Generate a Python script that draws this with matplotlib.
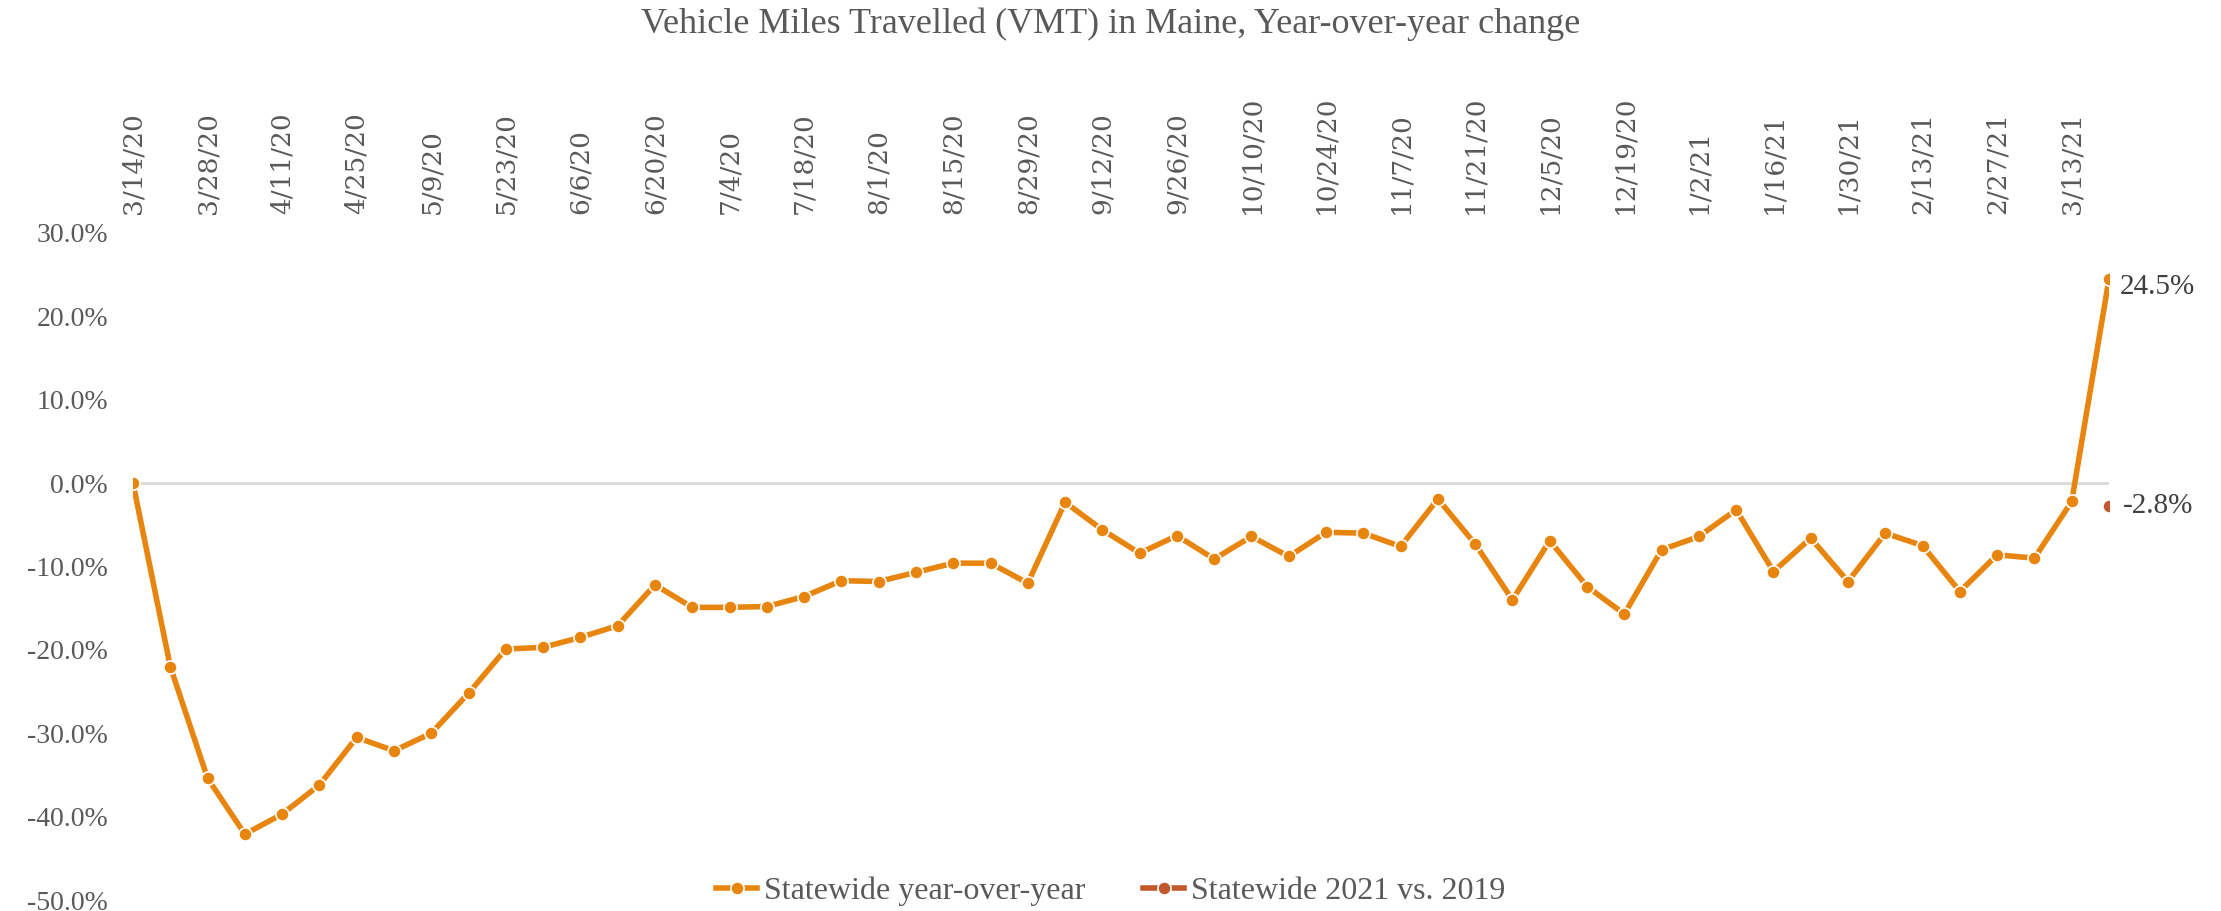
import matplotlib
matplotlib.use("Agg")
import matplotlib.pyplot as plt
import numpy as np
import pandas as pd

# ---- data ----
week_start = "2020-03-14"
n_weeks = 54
yoy = [0.0, -22.0, -35.4, -42.1, -39.7, -36.2, -30.5, -32.1, -30.0, -25.2,
       -19.9, -19.7, -18.5, -17.1, -12.2, -14.9, -14.9, -14.8, -13.6, -11.7,
       -11.8, -10.7, -9.6, -9.6, -12.0, -2.3, -5.6, -8.4, -6.3, -9.1,
       -6.4, -8.8, -5.9, -6.0, -7.6, -1.9, -7.3, -14.0, -6.9, -12.4,
       -15.7, -8.0, -6.4, -3.2, -10.6, -6.6, -11.8, -6.0, -7.5, -13.0,
       -8.6, -9.0, -2.2, 24.5]
vs2019_last = -2.8
series_names = ["Statewide year-over-year", "Statewide 2021 vs. 2019"]
title = "Vehicle Miles Travelled (VMT) in Maine, Year-over-year change"
y_ticks = [30, 20, 10, 0, -10, -20, -30, -40, -50]

dates = pd.date_range(week_start, periods=n_weeks, freq="7D")
labels = [f"{d.month}/{d.day}/{d.strftime('%y')}" for d in dates]
vs2019 = [np.nan] * (n_weeks - 1) + [vs2019_last]

# ---- style ----
serif = ["Liberation Serif", "DejaVu Serif"]
gray = "#595959"
orange = "#E8850E"
red = "#C0582B"

fig = plt.figure(figsize=(22.21, 9.11), dpi=100)
ax = fig.add_axes([133 / 2221, 11 / 911, (2109 - 133) / 2221, (900 - 233) / 911])

x = np.arange(n_weeks)
ax.axhline(0, color="#D9D9D9", lw=2, zorder=1)
ax.plot(x, yoy, color=orange, lw=4, marker="o", ms=9.5, mfc=orange,
        mec="white", mew=1.2, zorder=3, label=series_names[0])
ax.plot(x, vs2019, color=red, lw=4, marker="o", ms=9.5, mfc=red,
        mec="white", mew=1.2, zorder=4, label=series_names[1])

ax.set_xlim(0, n_weeks - 1)
ax.set_ylim(-50, 30)
ax.set_yticks(y_ticks)
ax.set_yticklabels([f"{v:.1f}%" for v in y_ticks], fontfamily=serif,
                   fontsize=20, color=gray)
ax.tick_params(axis="y", length=0, pad=18)

ax.xaxis.tick_top()
ax.set_xticks(x[::2])
ax.set_xticklabels(labels[::2], rotation=90, fontfamily=["DejaVu Serif"],
                   fontsize=19, color=gray, va="bottom", ha="center")
ax.tick_params(axis="x", length=0, pad=14)
for s in ax.spines.values():
    s.set_visible(False)

# data labels
ax.annotate(f"{yoy[-1]:.1f}%", (x[-1], yoy[-1]), xytext=(8, -6),
            textcoords="offset points", ha="left", va="center",
            fontfamily=serif, fontsize=21, color="#404040")
ax.annotate(f"{vs2019_last:.1f}%", (x[-1], vs2019_last), xytext=(10, 0),
            textcoords="offset points", ha="left", va="center",
            fontfamily=serif, fontsize=21, color="#404040")

fig.text(0.5, 1 - 24 / 911, title, ha="center", va="center",
         fontfamily=serif, fontsize=26, color=gray)

leg = fig.legend(loc="center", bbox_to_anchor=(0.5, 20 / 911), ncol=2,
                 frameon=False, prop={"family": serif, "size": 23},
                 handlelength=1.3, handletextpad=0.2, columnspacing=1.8)
for t in leg.get_texts():
    t.set_color(gray)

fig.savefig("out.png", dpi=100)
